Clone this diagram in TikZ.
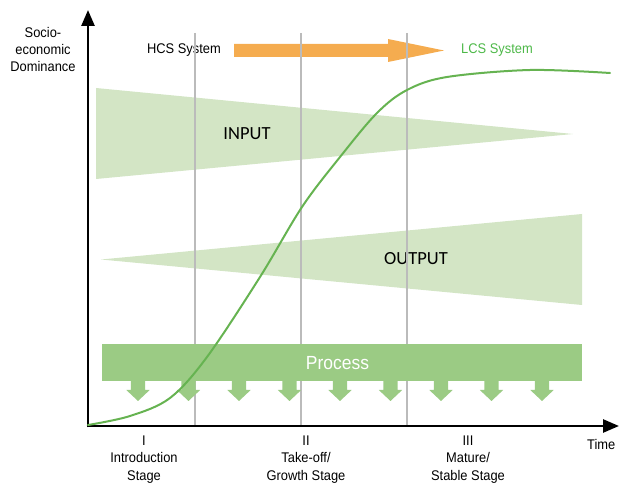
\documentclass[tikz,border=0pt]{standalone}
\usepackage{fontspec}
\setmainfont{Liberation Sans}[FakeStretch=0.92]
\newfontfamily\labelfont{Carlito}
\usetikzlibrary{arrows.meta}

\definecolor{paleGreen}{HTML}{D3E5C5}
\definecolor{barGreen}{HTML}{9BCB84}
\definecolor{curveGreen}{HTML}{66B351}
\definecolor{lcsGreen}{HTML}{4DB848}
\definecolor{hcsOrange}{HTML}{F5AC4F}
\definecolor{stageGray}{HTML}{BBBBBB}

\tikzset{
  txt/.style={font=\fontsize{14}{17}\selectfont, text=black, inner sep=0pt, align=center},
  stagetxt/.style={txt, font=\fontsize{14}{17.5}\selectfont},
  bigtxt/.style={font=\labelfont\fontsize{18.5}{20}\selectfont, text=black, inner sep=0pt},
  axisline/.style={line width=2.6pt, -{Triangle[length=16pt,width=13pt]}},
  stageline/.style={draw=stageGray, line width=1.6pt},
  wedge/.style={fill=paleGreen, draw=none},
  downarrow/.style={fill=barGreen, draw=none}
}

\begin{document}
\begin{tikzpicture}[x=1pt, y=-1pt]
\useasboundingbox (0,0) rectangle (619,486);

% system transition arrow
\fill[hcsOrange] (234,44) -- (388,44) -- (388,39) -- (444,50.5) -- (388,62) -- (388,57) -- (234,57) -- cycle;
\node[txt, anchor=center] (hcs) at (184,50) {HCS System};
\node[txt, anchor=west, text=lcsGreen] (lcs) at (461,50) {LCS System};

% input and output wedges
\fill[wedge] (96,88) -- (573,134) -- (96,179) -- cycle;
\fill[wedge] (101,259.5) -- (582,214) -- (582,305) -- cycle;
\node[bigtxt] (input) at (247,134) {INPUT};
\node[bigtxt] (output) at (416,259) {OUTPUT};

% stage boundaries
\coordinate (s1top) at (195,33);  \coordinate (s1bot) at (195,426);
\coordinate (s2top) at (301,33);  \coordinate (s2bot) at (301,426);
\coordinate (s3top) at (407,33);  \coordinate (s3bot) at (407,426);
\draw[stageline] (s1top) -- (s1bot);
\draw[stageline] (s2top) -- (s2bot);
\draw[stageline] (s3top) -- (s3bot);

% process bar with its outflow arrows
\fill[barGreen] (102,344) rectangle (582,381);
\node[txt, text=white, font=\fontsize{19}{20}\selectfont] (process) at (337.5,363) {Process};
\foreach \cx in {138,188.5,239,289.5,340,390.5,441,491.5,542}{
  \fill[downarrow] (\cx-7.2,380) -- (\cx+7.2,380) -- (\cx+7.2,390) -- (\cx+11.7,390)
    -- (\cx,401) -- (\cx-11.7,390) -- (\cx-7.2,390) -- cycle;
}

% axes
\coordinate (origin) at (88,426);
\coordinate (yend) at (88,10);
\coordinate (xend) at (619,426);
\draw[axisline] (origin) ++(0,1.3) -- (yend);
\draw[axisline] (origin) ++(-1.3,0) -- (xend);

% S-curve of dominance
\draw[curveGreen, line width=2pt, line cap=round]
  plot[smooth, tension=0.55] coordinates {(88,425) (130,416) (170,398) (207,357) (260,277)
    (302,207) (340,157) (377,113) (407,90) (447,77) (530,70) (610,73)};

% axis labels
\node[txt] (ylabel) at (43,49) {Socio-\\economic\\Dominance};
\node[txt, anchor=west] (xlabel) at (587,444) {Time};

% stage labels
\node[stagetxt, anchor=north] (stage1) at (144,435.5) {I\\Introduction\\Stage};
\node[stagetxt, anchor=north] (stage2) at (306,435.5) {II\\Take-off/\\Growth Stage};
\node[stagetxt, anchor=north] (stage3) at (468,435.5) {III\\Mature/\\Stable Stage};
\end{tikzpicture}
\end{document}
